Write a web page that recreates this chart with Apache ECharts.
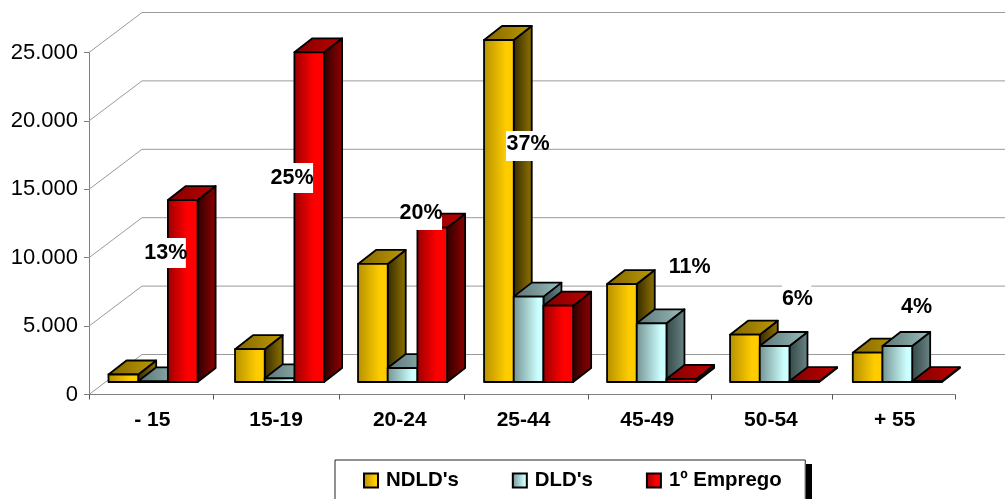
<!DOCTYPE html>
<html>
<head>
<meta charset="utf-8">
<script src="https://cdn.jsdelivr.net/npm/echarts@6/dist/echarts.min.js"></script>
<style>
html,body{margin:0;padding:0;background:#fff;overflow:hidden}
#chart{width:1005px;height:499px}
</style>
</head>
<body>
<div id="chart"></div>
<script>
// valores
var categories = ['- 15', '15-19', '20-24', '25-44', '45-49', '50-54', '+ 55'];
var ndld = [550, 2400, 8630, 25000, 7160, 3460, 2140];
var dld = [50, 270, 1020, 6240, 4290, 2630, 2630];
var emprego = [13300, 24100, 11280, 5580, 220, 60, 60];
var shares = ['13%', '25%', '20%', '37%', '11%', '6%', '4%'];
var yTicks = [0, 5000, 10000, 15000, 20000, 25000];

// offsets em px do rotulo face ao centro da categoria: dx, dy, meia largura esq/dir da caixa, ajuste da caixa
var labelLayout = [
    [15, -142.5, 22, 20, 1],
    [17.5, -217.5, 21, 21, 1],
    [22.75, -182.5, 21, 21, 3],
    [6, -251.5, 22, 5, 3],
    [44, -128.5, 21, 21, 1],
    [28, -96.5, 15.5, 14, 1],
    [23.5, -88.5, 15.5, 15.5, 1]
];
// o original nao tem categorias todas iguais, pequenos acertos em px
var groupNudge = [0, 2.8, 2.1, 4.4, 3.7, 3, 2];
var tickNudge = [0, 0, 2.6, 4, 3.9, 3.2, 0.5, 0];

var WALL_DX = 53, WALL_DY = -40;   // profundidade do chao/parede
var FLOOR_DY = -12.5;              // barras assentam a meio do chao
var DEPTH_DX = 18, DEPTH_DY = -14; // profundidade de cada barra
var GROUP_LEFT = 19.5, BAR_W = 29.7;
var EDGE = '#000';

function grad(a, b, stop) {
    return new echarts.graphic.LinearGradient(0, 0, 1, 0, [
        {offset: 0, color: a},
        {offset: stop, color: b},
        {offset: 1, color: b}
    ]);
}

var palette = [
    {front: grad('#b38f00', '#ffcc00', 0.72), side: grad('#332900', '#806600', 0.8), top: grad('#806600', '#bf9900', 1)},
    {front: grad('#739090', '#ccffff', 0.8), side: grad('#334747', '#667f7f', 0.9), top: grad('#5c7373', '#99bfbf', 1)},
    {front: grad('#990000', '#ff0000', 0.65), side: grad('#2b0000', '#800000', 0.8), top: grad('#800000', '#bf0000', 1)}
];

function barRenderer(slot) {
    var colors = palette[slot];
    return function (params, api) {
        var idx = api.value(0);
        var band = api.size([1, 0])[0];
        var x0 = api.coord([idx, 0])[0] - band / 2 + GROUP_LEFT + groupNudge[idx] + slot * BAR_W;
        var x1 = x0 + BAR_W;
        var yBase = api.coord([idx, 0])[1] + FLOOR_DY;
        var yTop = api.coord([idx, api.value(1)])[1] + FLOOR_DY;
        var line = {stroke: EDGE, lineWidth: 1.8, lineJoin: 'round'};
        return {
            type: 'group',
            children: [
                {
                    type: 'polygon',
                    shape: {points: [[x1, yTop], [x1 + DEPTH_DX, yTop + DEPTH_DY], [x1 + DEPTH_DX, yBase + DEPTH_DY], [x1, yBase]]},
                    style: Object.assign({fill: colors.side}, line)
                },
                {
                    type: 'polygon',
                    shape: {points: [[x0, yTop], [x0 + DEPTH_DX, yTop + DEPTH_DY], [x1 + DEPTH_DX, yTop + DEPTH_DY], [x1, yTop]]},
                    style: Object.assign({fill: colors.top}, line)
                },
                {
                    type: 'rect',
                    shape: {x: x0, y: yTop, width: BAR_W, height: yBase - yTop},
                    style: Object.assign({fill: colors.front}, line)
                }
            ]
        };
    };
}

function wallRenderer(params, api) {
    var band = api.size([1, 0])[0];
    var p = api.coord([0, api.value(0)]);
    var xl = p[0] - band / 2;
    var xr = api.coord([categories.length - 1, api.value(0)])[0] + band / 2 + WALL_DX;
    return {
        type: 'polyline',
        shape: {points: [[xl, p[1]], [xl + WALL_DX, p[1] + WALL_DY], [xr, p[1] + WALL_DY]]},
        style: {fill: null, stroke: '#9a9a9a', lineWidth: 1}
    };
}

function tickRenderer(params, api) {
    var i = api.value(0);
    var band = api.size([1, 0])[0];
    var p = api.coord([0, 0]);
    var x = Math.round(p[0] - band / 2 + i * band + tickNudge[i]) + 0.5;
    return {
        type: 'line',
        shape: {x1: x, y1: p[1], x2: x, y2: p[1] + 5},
        style: {stroke: '#555', lineWidth: 1}
    };
}

function labelRenderer(params, api) {
    var i = api.value(0);
    var c = api.coord([i, 0]);
    var o = labelLayout[i];
    var cx = c[0] + o[0], cy = c[1] + o[1];
    return {
        type: 'group',
        children: [
            {
                type: 'rect',
                shape: {x: cx - o[2], y: cy - 15 + o[4], width: o[2] + o[3], height: 30},
                style: {fill: '#fff'}
            },
            {
                type: 'text',
                style: {
                    x: cx, y: cy + 1.5, text: shares[i], fill: '#000',
                    font: 'bold 21.5px "Liberation Sans", Arial, sans-serif',
                    align: 'center', verticalAlign: 'middle'
                }
            }
        ]
    };
}

function barSeries(name, values, slot) {
    return {
        name: name,
        type: 'custom',
        renderItem: barRenderer(slot),
        encode: {x: 0, y: 1},
        itemStyle: {color: palette[slot].front, borderColor: '#000', borderWidth: 1.5},
        data: values.map(function (v, i) { return [i, v]; }),
        z: 3
    };
}

var myChart = echarts.init(document.getElementById('chart'), null, {renderer: 'canvas'});
var option = {
    animation: false,
    backgroundColor: '#fff',
    textStyle: {fontFamily: '"Liberation Sans", Arial, sans-serif'},
    grid: {left: 89, right: 50, top: 52.5, height: 342, containLabel: false},
    legend: {
        left: 335,
        top: 460,
        orient: 'horizontal',
        data: ["NDLD's", "DLD's", '1º Emprego'],
        icon: 'rect',
        itemWidth: 14,
        itemHeight: 14,
        itemGap: 53,
        padding: [10.5, 23.5, 20, 28],
        backgroundColor: '#fff',
        borderColor: '#222',
        borderWidth: 1,
        selectedMode: false,
        z: 6,
        textStyle: {
            fontFamily: '"Liberation Sans", Arial, sans-serif',
            fontWeight: 'bold',
            fontSize: 20.4,
            color: '#000',
            padding: [0, 0, 0, 3]
        }
    },
    // sombra preta da caixa da legenda
    graphic: [{
        type: 'rect',
        z: 4,
        shape: {x: 806, y: 464, width: 6, height: 35},
        style: {fill: '#000'}
    }],
    xAxis: {
        type: 'category',
        data: categories,
        axisLine: {lineStyle: {color: '#808080', width: 1}},
        axisTick: {show: false},
        axisLabel: {color: '#000', fontSize: 21, fontWeight: 'bold', margin: 15.5, interval: 0, padding: [0, 0, 0, 3]},
        splitLine: {show: false}
    },
    yAxis: {
        type: 'value',
        min: 0,
        max: 25000,
        interval: 5000,
        axisLine: {show: true, lineStyle: {color: '#808080', width: 1}},
        axisTick: {show: true, length: 5, lineStyle: {color: '#808080'}},
        axisLabel: {
            color: '#000',
            fontSize: 22,
            margin: 11,
            padding: [0, 0, 5, 0],
            formatter: function (v) { return String(v).replace(/\B(?=(\d{3})+$)/g, '.'); }
        },
        splitLine: {show: false}
    },
    series: [
        {
            type: 'custom',
            renderItem: wallRenderer,
            encode: {y: 0},
            data: yTicks.map(function (v) { return [v]; }),
            silent: true,
            z: 1
        },
        {
            type: 'custom',
            renderItem: tickRenderer,
            encode: {x: 0},
            data: tickNudge.map(function (n, i) { return [i]; }),
            silent: true,
            z: 1
        },
        barSeries("NDLD's", ndld, 0),
        barSeries("DLD's", dld, 1),
        barSeries('1º Emprego', emprego, 2),
        {
            type: 'custom',
            renderItem: labelRenderer,
            encode: {x: 0},
            data: shares.map(function (s, i) { return [i]; }),
            silent: true,
            z: 5
        }
    ]
};
myChart.setOption(option);
</script>
</body>
</html>
